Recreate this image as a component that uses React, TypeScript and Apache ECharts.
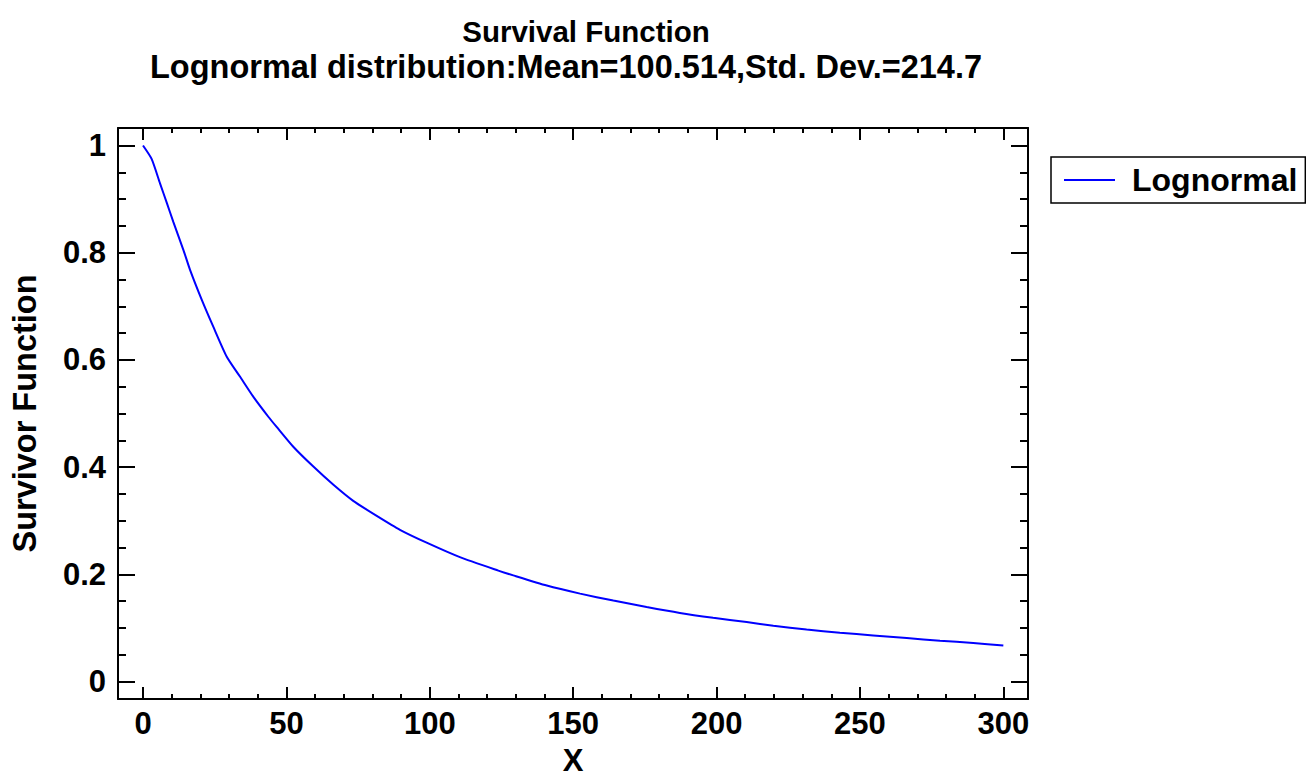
import React, { useEffect, useRef } from "react";
import * as echarts from "echarts";

const titleLine1 = "Survival Function";
const titleLine2 = "Lognormal distribution:Mean=100.514,Std. Dev.=214.7";
const seriesName = "Lognormal";
const xAxisName = "X";
const yAxisName = "Survivor Function";

const xValues = [
  0, 3.0, 5.9, 8.3, 10.6, 14.1, 16.4, 20.5, 24.5, 29.2, 33.8, 38.5, 43.7, 46.6, 52.4, 59.4,
  66.4, 73.3, 81.5, 89.6, 98.9, 110.5, 123.9, 129.1, 140.8, 152.4, 164.0, 175.6,
  187.2, 198.8, 210.5, 219.8, 231.4, 243.0, 254.6, 266.3, 277.9, 289.5, 300,
];
const survival = [
  1.0, 0.975, 0.93, 0.893, 0.857, 0.805, 0.768, 0.712, 0.662, 0.606, 0.569, 0.531, 0.494, 0.475,
  0.438, 0.401, 0.367, 0.337, 0.309, 0.283, 0.259, 0.232, 0.207, 0.198, 0.179, 0.164,
  0.151, 0.139, 0.128, 0.119, 0.111, 0.104, 0.097, 0.091, 0.086, 0.081, 0.076, 0.072,
  0.067,
];

const xMajorTicks = [0, 50, 100, 150, 200, 250, 300];
const xMinorTicks = [
  10, 20, 30, 40, 60, 70, 80, 90, 110, 120, 130, 140, 160, 170, 180, 190, 210, 220,
  230, 240, 260, 270, 280, 290,
];
const yMajorTicks = [0, 0.2, 0.4, 0.6, 0.8, 1];
const yMinorTicks = [
  0.05, 0.1, 0.15, 0.25, 0.3, 0.35, 0.45, 0.5, 0.55, 0.65, 0.7, 0.75, 0.85, 0.9, 0.95,
];

const X_MIN = -8.72;
const X_MAX = 308.6;
const Y_MIN = -0.0326;
const Y_MAX = 1.0327;

const FONT = "'Liberation Sans', Arial, sans-serif";

export default function App() {
  const ref = useRef<HTMLDivElement>(null);

  useEffect(() => {
    if (!ref.current) return;
    const chart = echarts.init(ref.current, null, { renderer: "svg" });

    const lineStyle = { color: "#000", width: 2 };
    const gridRect = { left: 118, top: 128, width: 910, height: 571 };

    const xAxisBase = (gridIndex: number, position: string, ticks: number[], len: number, showLine: boolean, labels: boolean) => ({
      type: "value",
      gridIndex,
      position,
      min: X_MIN,
      max: X_MAX,
      axisLine: { show: showLine, onZero: false, lineStyle },
      axisTick: { show: true, inside: true, length: len, customValues: ticks, lineStyle },
      axisLabel: labels
        ? { show: true, customValues: ticks, fontSize: 31, fontWeight: "bold", color: "#000", fontFamily: FONT, margin: 9 }
        : { show: false },
      splitLine: { show: false },
    });
    const yAxisBase = (gridIndex: number, position: string, ticks: number[], len: number, showLine: boolean, labels: boolean) => ({
      type: "value",
      gridIndex,
      position,
      min: Y_MIN,
      max: Y_MAX,
      axisLine: { show: showLine, onZero: false, lineStyle },
      axisTick: { show: true, inside: true, length: len, customValues: ticks, lineStyle },
      axisLabel: labels
        ? {
            show: true,
            customValues: ticks,
            fontSize: 31,
            fontWeight: "bold",
            color: "#000",
            fontFamily: FONT,
            margin: 12,
            formatter: (v: number) => String(Math.round(v * 10) / 10),
          }
        : { show: false },
      splitLine: { show: false },
    });

    const xMain: any = xAxisBase(0, "bottom", xMajorTicks, 12, true, true);
    xMain.name = xAxisName;
    xMain.nameLocation = "middle";
    xMain.nameGap = 46;
    xMain.nameTextStyle = { fontSize: 31, fontWeight: "bold", color: "#000", fontFamily: FONT };

    const yMain: any = yAxisBase(0, "left", yMajorTicks, 17, true, true);
    yMain.name = yAxisName;
    yMain.nameLocation = "middle";
    yMain.nameGap = 77;
    yMain.nameRotate = 90;
    yMain.nameTextStyle = { fontSize: 32.5, fontWeight: "bold", color: "#000", fontFamily: FONT };

    chart.setOption({
      animation: false,
      backgroundColor: "#fff",
      title: [
        {
          text: titleLine1,
          left: 586,
          top: 14,
          textAlign: "center",
          padding: 0,
          textStyle: { fontSize: 29.5, fontWeight: "bold", color: "#000", fontFamily: FONT, lineHeight: 34 },
        },
        {
          text: titleLine2,
          left: 566,
          top: 48,
          textAlign: "center",
          padding: 0,
          textStyle: { fontSize: 32.5, fontWeight: "bold", color: "#000", fontFamily: FONT, lineHeight: 38 },
        },
      ],
      legend: {
        data: [seriesName],
        left: 1051,
        top: 157,
        icon: "rect",
        itemWidth: 51,
        itemHeight: 2,
        borderColor: "#000",
        borderWidth: 1.5,
        padding: [7, 8, 7, 13],
        backgroundColor: "#fff",
        textStyle: { fontSize: 32, fontWeight: "bold", color: "#000", fontFamily: FONT, padding: [0, 0, 0, 12] },
      },
      grid: [
        { ...gridRect, containLabel: false },
        { ...gridRect, containLabel: false },
      ],
      xAxis: [
        xMain,
        xAxisBase(0, "top", xMajorTicks, 12, true, false),
        xAxisBase(1, "bottom", xMinorTicks, 5, false, false),
        xAxisBase(1, "top", xMinorTicks, 5, false, false),
      ],
      yAxis: [
        yMain,
        yAxisBase(0, "right", yMajorTicks, 17, true, false),
        yAxisBase(1, "left", yMinorTicks, 8, false, false),
        yAxisBase(1, "right", yMinorTicks, 8, false, false),
      ],
      series: [
        {
          name: seriesName,
          type: "line",
          xAxisIndex: 0,
          yAxisIndex: 0,
          data: xValues.map((x, i) => [x, survival[i]]),
          showSymbol: false,
          smooth: 0.2,
          lineStyle: { color: "#0000ff", width: 2 },
          itemStyle: { color: "#0000ff" },
        },
      ],
    });

    return () => chart.dispose();
  }, []);

  return (
    <div
      ref={ref}
      style={{ position: "absolute", left: 0, top: 0, width: 1306, height: 783, background: "#fff" }}
    />
  );
}
